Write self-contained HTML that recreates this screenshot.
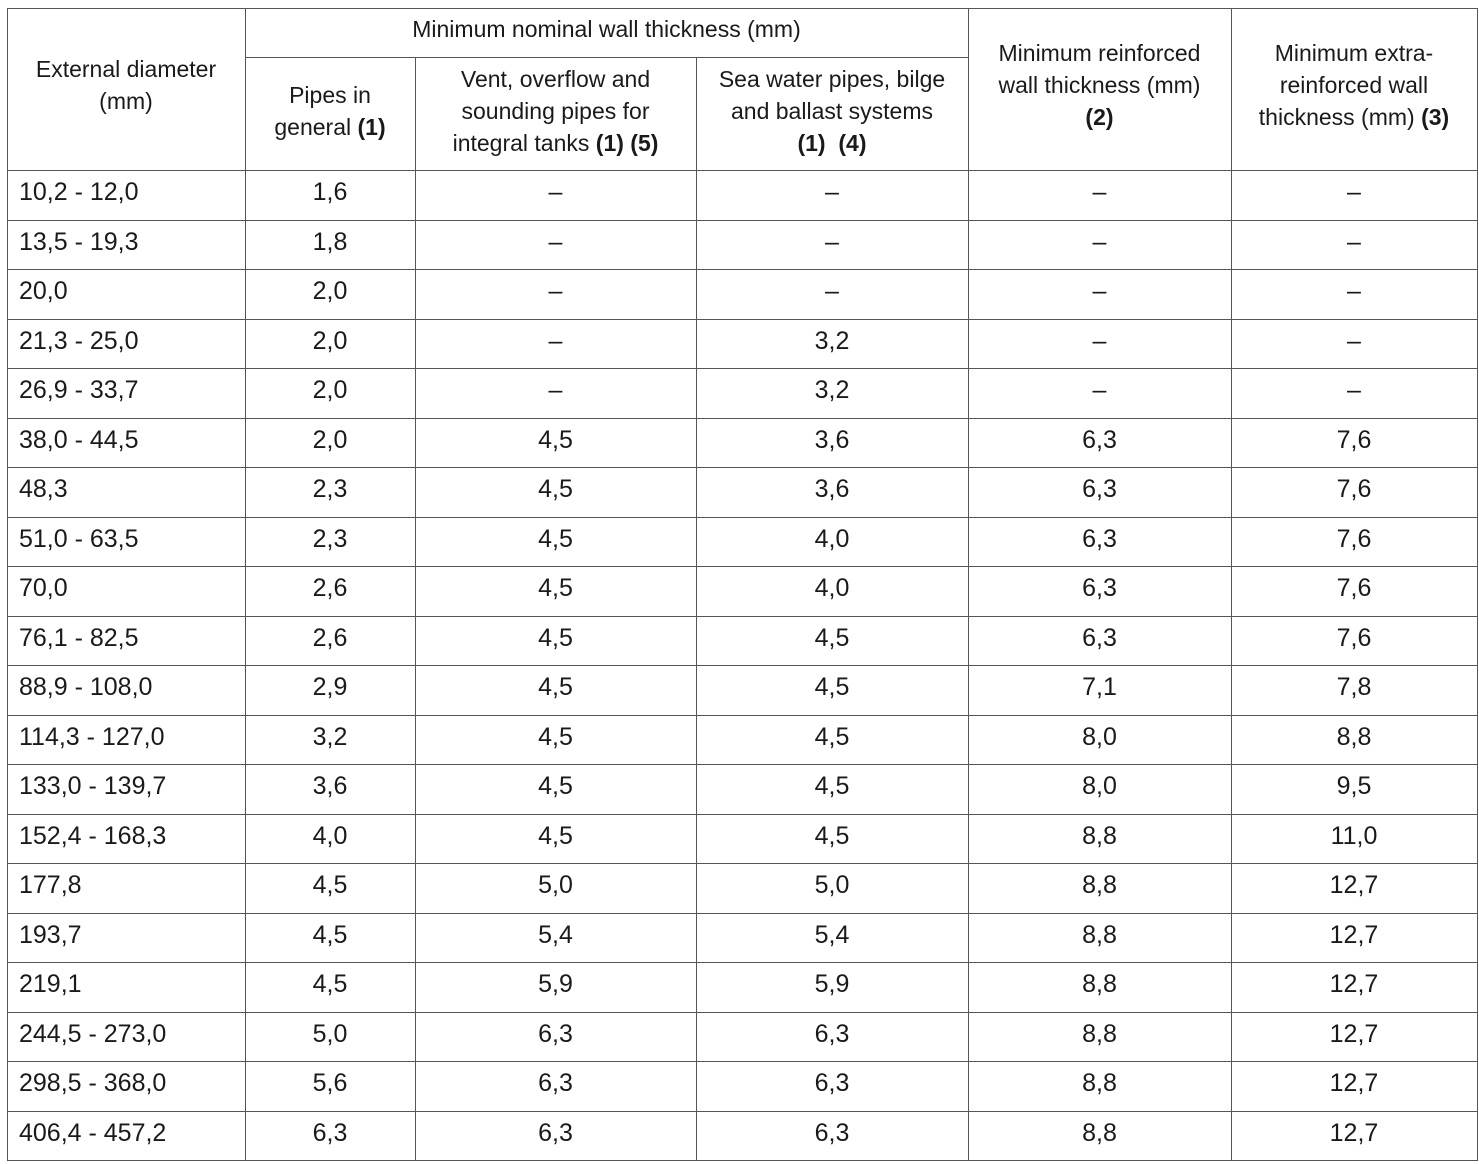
<!DOCTYPE html>
<html><head><meta charset="utf-8">
<style>
html,body{margin:0;padding:0;background:#fff;}
#wrap{position:relative;width:1479px;height:1164px;overflow:hidden;font-family:"Liberation Sans","DejaVu Sans",sans-serif;color:#1a1a1a;font-size:25px;}
.h{position:absolute;height:1px;background:#555;}
.v{position:absolute;width:1px;background:#555;}
.c{position:absolute;display:flex;align-items:center;justify-content:center;text-align:center;line-height:32px;box-sizing:border-box;}
.c>span{display:block;white-space:nowrap;}
.hd{font-size:23px;}
.l{justify-content:flex-start;padding-left:12px;}
b{font-weight:bold;}
</style></head><body>
<div id="wrap"></div>
<script>
const diameters=["10,2 - 12,0","13,5 - 19,3","20,0","21,3 - 25,0","26,9 - 33,7","38,0 - 44,5","48,3","51,0 - 63,5","70,0","76,1 - 82,5","88,9 - 108,0","114,3 - 127,0","133,0 - 139,7","152,4 - 168,3","177,8","193,7","219,1","244,5 - 273,0","298,5 - 368,0","406,4 - 457,2"];
const general=["1,6","1,8","2,0","2,0","2,0","2,0","2,3","2,3","2,6","2,6","2,9","3,2","3,6","4,0","4,5","4,5","4,5","5,0","5,6","6,3"];
const vent=["–","–","–","–","–","4,5","4,5","4,5","4,5","4,5","4,5","4,5","4,5","4,5","5,0","5,4","5,9","6,3","6,3","6,3"];
const sea=["–","–","–","3,2","3,2","3,6","3,6","4,0","4,0","4,5","4,5","4,5","4,5","4,5","5,0","5,4","5,9","6,3","6,3","6,3"];
const reinf=["–","–","–","–","–","6,3","6,3","6,3","6,3","6,3","7,1","8,0","8,0","8,8","8,8","8,8","8,8","8,8","8,8","8,8"];
const extra=["–","–","–","–","–","7,6","7,6","7,6","7,6","7,6","7,8","8,8","9,5","11,0","12,7","12,7","12,7","12,7","12,7","12,7"];
const W=document.getElementById('wrap');
const X=[7,245,415,696,968,1231,1477];
const TOP=8,MID=57,HB=170,BOT=1160,RH=(BOT-HB)/diameters.length;
function line(cls,x,y,len,name){const d=document.createElement('div');d.className=cls;d.style.left=x+'px';d.style.top=y+'px';if(cls==='h')d.style.width=len+'px';else d.style.height=len+'px';


W.appendChild(d);}
function cell(x,y,w,h,html,name,left,hd){const d=document.createElement('div');d.className='c'+(left?' l':'')+(hd?' hd':'');d.style.left=x+'px';d.style.top=y+'px';d.style.width=w+'px';d.style.height=h+'px';d.innerHTML='<span>'+html+'</span>';


W.appendChild(d);}
line('h',X[0],TOP,X[6]-X[0]+1,'table-top-border');
line('h',X[1],MID,X[4]-X[1],'header-split-line');
for(let i=0;i<=diameters.length;i++)line('h',X[0],HB+Math.round(i*RH),X[6]-X[0]+1,'row-line');
line('v',X[0],TOP,BOT-TOP+1,'left-border');
line('v',X[1],TOP,BOT-TOP,'col-line');
line('v',X[2],MID,BOT-MID,'col-line');
line('v',X[3],MID,BOT-MID,'col-line');
line('v',X[4],TOP,BOT-TOP,'col-line');
line('v',X[5],TOP,BOT-TOP,'col-line');
line('v',X[6],TOP,BOT-TOP+1,'right-border');
cell(X[0],TOP,X[1]-X[0],154,'External diameter<br>(mm)','header-external-diameter',false,true);
cell(X[1],TOP,X[4]-X[1],42,'Minimum nominal wall thickness (mm)','header-min-nominal',false,true);
cell(X[1],MID,X[2]-X[1],HB-MID-6,'Pipes in<br>general <b>(1)</b>','header-pipes-general',false,true);
cell(X[2],MID,X[3]-X[2],HB-MID-6,'Vent, overflow and<br>sounding pipes for<br>integral tanks <b>(1)</b> <b>(5)</b>','header-vent-overflow',false,true);
cell(X[3],MID,X[4]-X[3],HB-MID-6,'Sea water pipes, bilge<br>and ballast systems<br><b>(1)</b>&nbsp;&nbsp;<b>(4)</b>','header-sea-water',false,true);
cell(X[4],TOP,X[5]-X[4],HB-TOP-8,'Minimum reinforced<br>wall thickness (mm)<br><b>(2)</b>','header-min-reinforced',false,true);
cell(X[5],TOP,X[6]-X[5],HB-TOP-8,'Minimum extra-<br>reinforced wall<br>thickness (mm) <b>(3)</b>','header-min-extra-reinforced',false,true);
const cols=[diameters,general,vent,sea,reinf,extra];
const names=['diameter','general','vent','sea-water','reinforced','extra-reinforced'];
for(let r=0;r<diameters.length;r++){
  const y=HB+Math.round(r*RH);
  for(let c=0;c<6;c++){
    cell(X[c],y,X[c+1]-X[c],RH-6,cols[c][r],names[c]+'-cell',c===0,false);
  }
}
</script>
</body></html>
